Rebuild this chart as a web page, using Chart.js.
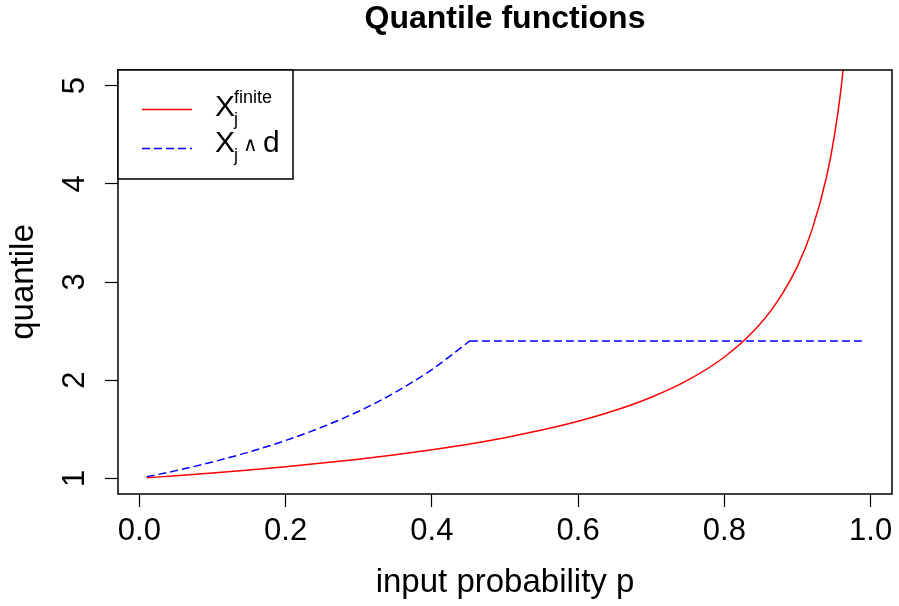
<!DOCTYPE html>
<html>
<head>
<meta charset="utf-8">
<title>Quantile functions</title>
<script src="https://cdn.jsdelivr.net/npm/chart.js@4.4.1/dist/chart.umd.min.js"></script>
<style>
  html, body { margin: 0; padding: 0; background: #fff; }
  #wrap { width: 899px; height: 606px; }
</style>
</head>
<body>
<div id="wrap"><canvas id="quantileChart" width="899" height="606"></canvas></div>
<script>
// --- data ---
const pFinite = [0.01, 0.05, 0.1, 0.15, 0.2, 0.25, 0.3, 0.35, 0.4, 0.45, 0.5, 0.55, 0.6, 0.65, 0.7, 0.75, 0.8, 0.84, 0.87, 0.9, 0.92, 0.94, 0.95, 0.96, 0.97];
const qFinite = [1.005, 1.026, 1.054, 1.085, 1.118, 1.155, 1.195, 1.240, 1.291, 1.348, 1.414, 1.491, 1.581, 1.690, 1.826, 2.000, 2.236, 2.500, 2.774, 3.162, 3.536, 4.082, 4.472, 5.000, 5.774];

// capped series: rising part, then flat at d
const pCapRise = [0.01, 0.05, 0.1, 0.15, 0.2, 0.25, 0.3, 0.35, 0.4, 0.452];
const qCapRise = [1.015, 1.078, 1.166, 1.268, 1.385, 1.522, 1.683, 1.876, 2.108, 2.400];
const pCapFlat = [0.452, 0.99];
const qCapFlat = [2.40, 2.40];

const xTicks = [0, 0.2, 0.4, 0.6, 0.8, 1.0];
const yTicks = [1, 2, 3, 4, 5];

const FONT = 'Liberation Sans, Arial, Helvetica, sans-serif';
Chart.defaults.font.family = FONT;
Chart.defaults.color = '#000';

function pairs(xs, ys) {
    return xs.map(function(x, i) { return { x: x, y: ys[i] }; });
}

// R style: box round the plot, rotated y labels, legend with sub/superscripts
const rStyle = {
    id: 'rStyle',
    afterDatasetsDraw: function(chart) {
        const ctx = chart.ctx;
        const a = chart.chartArea;
        const yScale = chart.scales.y;

        ctx.save();
        ctx.strokeStyle = '#000';
        ctx.lineWidth = 1.5;
        ctx.strokeRect(a.left, a.top, a.right - a.left, a.bottom - a.top);

        // y tick labels, parallel to the axis
        ctx.fillStyle = '#000';
        ctx.font = '31px ' + FONT;
        ctx.textAlign = 'center';
        ctx.textBaseline = 'alphabetic';
        yTicks.forEach(function(v) {
            const y = yScale.getPixelForValue(v);
            ctx.save();
            ctx.translate(84, y);
            ctx.rotate(-Math.PI / 2);
            ctx.fillText(String(v), 0, 0);
            ctx.restore();
        });

        // legend
        const L = a.left, T = a.top;
        ctx.fillStyle = '#fff';
        ctx.fillRect(L, T, 175, 109);
        ctx.strokeStyle = '#000';
        ctx.lineWidth = 1.5;
        ctx.strokeRect(L, T, 175, 109);

        ctx.lineWidth = 1.5;
        ctx.strokeStyle = '#ff0000';
        ctx.setLineDash([]);
        ctx.beginPath();
        ctx.moveTo(L + 24, T + 39.5);
        ctx.lineTo(L + 74, T + 39.5);
        ctx.stroke();

        ctx.strokeStyle = '#0000ff';
        ctx.setLineDash([8, 4]);
        ctx.beginPath();
        ctx.moveTo(L + 24, T + 78.5);
        ctx.lineTo(L + 74, T + 78.5);
        ctx.stroke();
        ctx.setLineDash([]);

        ctx.fillStyle = '#000';
        ctx.textAlign = 'left';
        const big = '30px ' + FONT, small = '18px ' + FONT;
        const tx = L + 97;

        ctx.font = big;
        ctx.fillText('X', tx, T + 46);
        const wX = ctx.measureText('X').width;
        ctx.font = small;
        ctx.fillText('finite', tx + wX - 1, T + 33);
        ctx.fillText('j', tx + wX - 1, T + 55);

        ctx.font = big;
        ctx.fillText('X', tx, T + 82);
        ctx.font = small;
        ctx.fillText('j', tx + wX - 1, T + 91);
        ctx.font = '20px ' + FONT;
        ctx.fillText('\u2227', tx + 28, T + 81);
        ctx.font = big;
        ctx.fillText('d', tx + 48, T + 82);

        ctx.restore();
    }
};

const ctxQ = document.getElementById('quantileChart').getContext('2d');

new Chart(ctxQ, {
    type: 'line',
    data: {
        datasets: [
            {
                label: 'finite',
                data: pairs(pFinite, qFinite),
                borderColor: '#ff0000',
                borderWidth: 1.5,
                pointRadius: 0,
                cubicInterpolationMode: 'monotone',
                fill: false
            },
            {
                label: 'capped',
                data: pairs(pCapRise, qCapRise),
                borderColor: '#0000ff',
                borderWidth: 1.5,
                borderDash: [8, 4],
                pointRadius: 0,
                cubicInterpolationMode: 'monotone',
                fill: false
            },
            {
                label: 'capped flat',
                data: pairs(pCapFlat, qCapFlat),
                borderColor: '#0000ff',
                borderWidth: 1.5,
                borderDash: [8, 4],
                pointRadius: 0,
                fill: false
            }
        ]
    },
    options: {
        responsive: false,
        animation: false,
        devicePixelRatio: 1,
        layout: { padding: { left: 0, right: 7, top: 0, bottom: 0 } },
        plugins: {
            legend: { display: false },
            tooltip: { enabled: false },
            title: {
                display: true,
                fullSize: false,
                text: 'Quantile functions',
                color: '#000',
                font: { size: 32, weight: 'bold', family: FONT },
                padding: { top: 0, bottom: 31.6 }
            }
        },
        scales: {
            x: {
                type: 'linear',
                min: -0.0292,
                max: 1.0292,
                afterBuildTicks: function(scale) {
                    scale.ticks = xTicks.map(function(v) { return { value: v }; });
                },
                afterFit: function(scale) { scale.height = 112; },
                ticks: {
                    autoSkip: false,
                    maxRotation: 0,
                    padding: 6,
                    color: '#000',
                    font: { size: 31 },
                    callback: function(v) { return Number(v).toFixed(1); }
                },
                grid: {
                    drawOnChartArea: false,
                    drawTicks: true,
                    tickLength: 13,
                    tickColor: '#000',
                    tickWidth: 1.2
                },
                border: { display: false },
                title: {
                    display: true,
                    text: 'input probability p',
                    color: '#000',
                    font: { size: 33 },
                    padding: { top: 0, bottom: 3 }
                }
            },
            y: {
                type: 'linear',
                min: 0.84,
                max: 5.16,
                afterBuildTicks: function(scale) {
                    scale.ticks = yTicks.map(function(v) { return { value: v }; });
                },
                afterFit: function(scale) { scale.width = 118; },
                ticks: { display: false },
                grid: {
                    drawOnChartArea: false,
                    drawTicks: true,
                    tickLength: 13,
                    tickColor: '#000',
                    tickWidth: 1.2
                },
                border: { display: false },
                title: {
                    display: true,
                    text: 'quantile',
                    color: '#000',
                    font: { size: 33 },
                    padding: { top: 4, bottom: 0 }
                }
            }
        }
    },
    plugins: [rStyle]
});
</script>
</body>
</html>
